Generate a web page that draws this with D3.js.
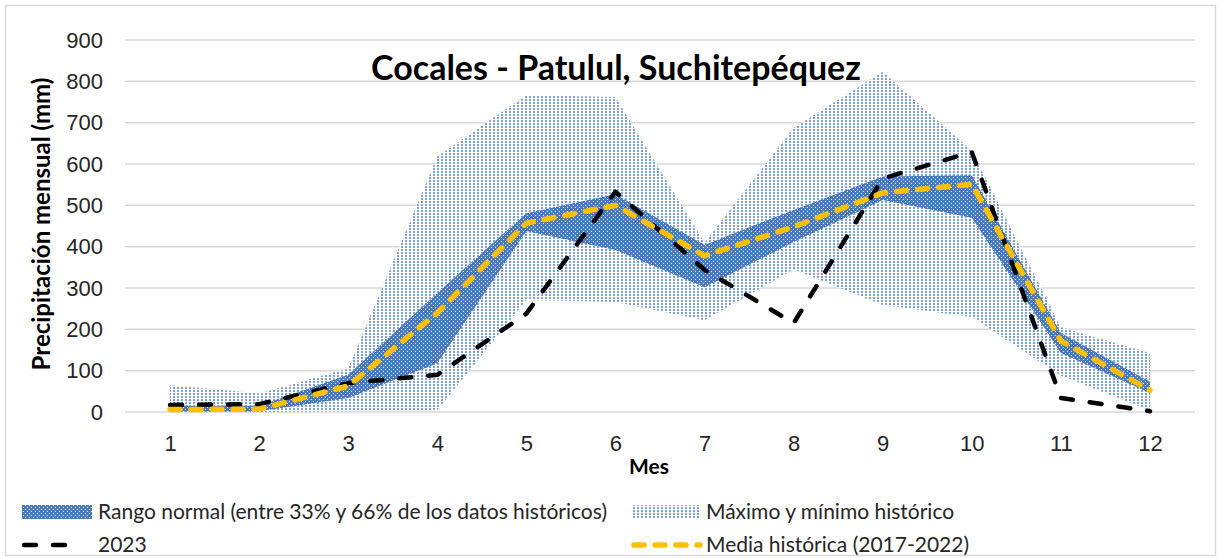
<!DOCTYPE html>
<html>
<head>
    <meta charset="utf-8">
    <title>Cocales - Patulul</title>
    <script src="https://cdn.jsdelivr.net/npm/d3@7"></script>
    <style>
        html, body { margin: 0; padding: 0; background: #fff; }
        svg { display: block; font-family: Lato, "Open Sans", sans-serif; }
        .grid line { stroke: #d9d9d9; stroke-width: 1.5; }
        .tick text { fill: #262626; font-size: 22px; }
        .domain { display: none; }
        .tick line { display: none; }
        .lbl { fill: #262626; font-size: 21px; }
    </style>
</head>
<body>
<svg></svg>
<script>
    // values (mm)
    var months   = [1, 2, 3, 4, 5, 6, 7, 8, 9, 10, 11, 12];
    var histMax  = [65, 45, 106, 618, 767, 762, 410, 688, 823, 632, 205, 143];
    var histMin  = [0, 0, 2, 4, 271, 266, 222, 345, 259, 230, 88, 4];
    var normHigh = [15, 15, 90, 288, 481, 527, 404, 489, 570, 573, 191, 73];
    var normLow  = [1, 2, 34, 118, 438, 392, 302, 411, 513, 470, 143, 46];
    var y2023    = [17, 19, 70, 90, 238, 533, 344, 215, 565, 629, 34, 2];
    var media    = [6, 7, 63, 240, 457, 500, 378, 448, 530, 551, 172, 53];
    var yTicks   = [0, 100, 200, 300, 400, 500, 600, 700, 800, 900];

    var W = 1222, H = 558;
    var svg = d3.select('svg').attr('width', W).attr('height', H);

    var x = d3.scalePoint().domain(months).range([125.5, 1194.5]).padding(0.5);
    var y = d3.scaleLinear().domain([0, 900]).range([412, 40]);

    // chart frame
    svg.append('rect')
        .attr('x', 5.5).attr('y', 5.5).attr('width', W - 12).attr('height', H - 8)
        .attr('fill', '#fff').attr('stroke', '#d9d9d9').attr('stroke-width', 1.5);

    // fill patterns
    var defs = svg.append('defs');
    var pd = defs.append('pattern').attr('id', 'dark')
        .attr('patternUnits', 'userSpaceOnUse').attr('width', 4).attr('height', 4);
    pd.append('rect').attr('width', 4).attr('height', 4).attr('fill', '#4a7bbf');
    pd.append('rect').attr('x', 1).attr('y', 1).attr('width', 1).attr('height', 1).attr('fill', '#e8eef8');
    pd.append('rect').attr('x', 3).attr('y', 3).attr('width', 1).attr('height', 1).attr('fill', '#e8eef8');

    var pl = defs.append('pattern').attr('id', 'light')
        .attr('patternUnits', 'userSpaceOnUse').attr('width', 4).attr('height', 3);
    pl.append('rect').attr('width', 4).attr('height', 3).attr('fill', '#fff');
    pl.append('rect').attr('x', 1).attr('y', 0).attr('width', 2).attr('height', 2).attr('fill', '#7ea2d8');

    // gridlines
    svg.append('g').attr('class', 'grid')
        .selectAll('line').data(yTicks).join('line')
        .attr('x1', 125).attr('x2', 1195)
        .attr('y1', function (d) { return y(d); }).attr('y2', function (d) { return y(d); });

    // axes
    svg.append('g').attr('transform', 'translate(125,0)')
        .call(d3.axisLeft(y).tickValues(yTicks).tickSize(0).tickPadding(22));
    svg.append('g').attr('transform', 'translate(0,412)')
        .call(d3.axisBottom(x).tickSize(0).tickPadding(23));

    var idx = d3.range(months.length);

    // max/min historical
    svg.append('path')
        .attr('fill', 'url(#light)')
        .attr('d', d3.area()
            .x(function (i) { return x(months[i]); })
            .y0(function (i) { return y(histMin[i]); })
            .y1(function (i) { return y(histMax[i]); })(idx));

    // normal range
    svg.append('path')
        .attr('fill', 'url(#dark)')
        .attr('d', d3.area()
            .x(function (i) { return x(months[i]); })
            .y0(function (i) { return y(normLow[i]); })
            .y1(function (i) { return y(normHigh[i]); })(idx));

    function line(vals) {
        return d3.line()
            .x(function (d, i) { return x(months[i]); })
            .y(function (d) { return y(d); })(vals);
    }

    svg.append('path').attr('d', line(y2023))
        .attr('fill', 'none').attr('stroke', '#000').attr('stroke-width', 4.5)
        .attr('stroke-linecap', 'round').attr('stroke-linejoin', 'round')
        .attr('stroke-dasharray', '12,17');

    svg.append('path').attr('d', line(media))
        .attr('fill', 'none').attr('stroke', '#ffc000').attr('stroke-width', 5.5)
        .attr('stroke-linecap', 'round').attr('stroke-linejoin', 'round')
        .attr('stroke-dasharray', '10,11');

    // titles
    svg.append('text').text('Cocales - Patulul, Suchitepéquez')
        .attr('x', 616).attr('y', 80).attr('text-anchor', 'middle')
        .attr('font-size', 34).attr('font-weight', 'bold').attr('fill', '#000');

    svg.append('text').text('Precipitación mensual (mm)')
        .attr('transform', 'translate(50,224)rotate(-90)').attr('text-anchor', 'middle')
        .attr('font-size', 24).attr('font-weight', 'bold').attr('fill', '#000');

    svg.append('text').text('Mes')
        .attr('x', 649).attr('y', 474).attr('text-anchor', 'middle')
        .attr('font-size', 21).attr('font-weight', 'bold').attr('fill', '#000');

    // legend
    var lg = svg.append('g');
    lg.append('rect').attr('x', 22).attr('y', 505).attr('width', 70).attr('height', 14).attr('fill', 'url(#dark)');
    lg.append('text').attr('class', 'lbl').attr('x', 98).attr('y', 519)
        .text('Rango normal (entre 33% y 66% de los datos históricos)');
    lg.append('rect').attr('x', 632).attr('y', 505).attr('width', 68).attr('height', 14).attr('fill', 'url(#light)');
    lg.append('text').attr('class', 'lbl').attr('x', 706).attr('y', 519)
        .text('Máximo y mínimo histórico');

    lg.append('line').attr('x1', 24).attr('x2', 70).attr('y1', 545).attr('y2', 545)
        .attr('stroke', '#000').attr('stroke-width', 4.5).attr('stroke-linecap', 'round')
        .attr('stroke-dasharray', '12,17');
    lg.append('text').attr('class', 'lbl').attr('x', 98).attr('y', 552).text('2023');
    lg.append('line').attr('x1', 634).attr('x2', 700).attr('y1', 545).attr('y2', 545)
        .attr('stroke', '#ffc000').attr('stroke-width', 5.5).attr('stroke-linecap', 'round')
        .attr('stroke-dasharray', '10,11');
    lg.append('text').attr('class', 'lbl').attr('x', 706).attr('y', 552).text('Media histórica (2017-2022)');
</script>
</body>
</html>
